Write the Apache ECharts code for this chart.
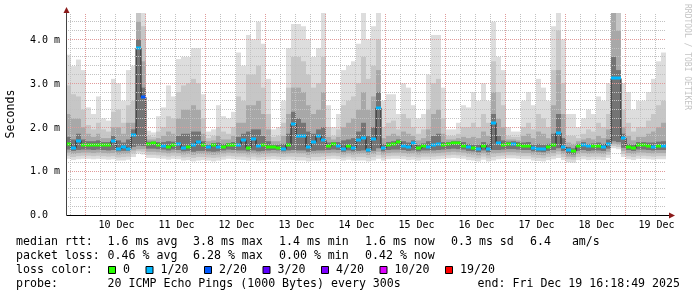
<!DOCTYPE html>
<html><head><meta charset="utf-8">
<script src="https://cdn.jsdelivr.net/npm/echarts@6/dist/echarts.min.js"></script>
<style>html,body{margin:0;padding:0;background:#fff}#c{width:697px;height:297px}</style>
</head><body><div id="c"></div>
<script>
// ---- time axis: hours relative to 10 Dec 00:00 ----
const X_MIN = -7.6, X_MAX = 232.4, SLOT_H = 2, Y_MAX = 4.6;
const dayLabels = ['10 Dec','11 Dec','12 Dec','13 Dec','14 Dec','15 Dec','16 Dec','17 Dec','18 Dec','19 Dec'];
const dayLabelHours = [12,36,60,84,108,132,156,180,204,228];
const yTickValues = [0,1,2,3,4];
const yTickLabels = ['0.0','1.0 m','2.0 m','3.0 m','4.0 m'];

// ---- median rtt (ms) per 2h slot, and lost pings out of 20 ----
const median = [
1.62,1.53,1.69,1.60,1.60,1.60,1.60,1.59,1.59,1.69,
1.51,1.54,1.51,1.83,3.80,2.68,1.62,1.63,1.60,1.58,
1.54,1.60,1.62,1.53,1.54,1.59,1.66,1.59,1.54,1.59,
1.55,1.54,1.59,1.59,1.60,1.70,1.53,1.72,1.58,1.60,
1.55,1.55,1.53,1.50,1.60,2.08,1.80,1.80,1.55,1.66,
1.80,1.70,1.57,1.61,1.58,1.50,1.58,1.53,1.70,1.76,
1.49,1.72,2.44,1.52,1.59,1.62,1.67,1.58,1.55,1.63,
1.52,1.56,1.54,1.60,1.62,1.60,1.61,1.63,1.63,1.58,
1.55,1.52,1.50,1.58,1.50,2.10,1.65,1.60,1.62,1.62,
1.60,1.57,1.58,1.52,1.50,1.50,1.55,1.60,1.87,1.55,
1.47,1.45,1.57,1.60,1.56,1.57,1.58,1.55,1.62,3.11,
3.11,1.75,1.55,1.52,1.60,1.60,1.58,1.55,1.57,1.58];
const lostPings = [
0,1,1,0,0,0,0,0,0,1,
1,1,1,1,1,2,0,0,0,1,
0,0,1,1,0,1,1,0,1,0,
1,0,0,0,1,1,0,1,1,0,
0,0,0,1,0,1,1,1,1,1,
1,1,0,0,1,1,0,1,1,1,
1,1,1,1,0,0,0,1,1,1,
0,0,1,1,1,0,0,0,0,0,
1,0,1,0,1,1,1,0,0,1,
0,0,0,1,1,1,0,0,1,1,
1,0,0,1,1,0,0,1,1,1,
1,1,0,0,0,0,0,1,0,1];

// ---- smoke envelopes (ms): outer (lightest) to inner (darkest) ----
const smokeTop1 = [
3.65,3.39,3.54,3.30,2.45,2.30,2.70,2.20,2.15,3.10,
3.00,2.60,3.30,3.40,4.60,4.60,1.92,1.88,2.25,2.45,
2.95,2.70,3.55,3.60,3.60,3.80,3.80,2.75,1.90,1.95,
2.50,2.25,2.20,2.35,3.70,3.40,4.10,4.00,4.40,3.90,
3.10,1.95,2.00,2.60,3.80,4.35,4.35,4.30,4.00,3.60,
3.80,4.60,2.50,2.00,2.30,3.30,3.40,3.50,3.90,4.60,
4.00,4.30,4.60,2.60,2.75,2.75,2.30,3.00,2.90,2.50,
2.20,2.30,3.20,4.10,4.10,2.90,1.95,1.95,2.10,2.50,
2.45,2.80,2.60,3.00,2.60,4.40,3.60,3.30,2.00,1.90,
1.90,2.60,2.80,2.50,3.10,2.90,2.60,4.30,4.60,4.00,
2.30,2.30,2.00,2.20,2.40,2.30,2.70,2.60,3.00,4.60,
4.60,3.00,2.80,2.40,2.60,2.60,2.80,3.10,3.50,3.70];
const smokeTop2 = [
2.95,2.75,2.70,2.40,2.05,1.95,2.10,1.95,1.90,2.35,
2.40,2.10,2.50,2.60,4.60,4.30,1.80,1.78,1.90,2.00,
2.25,2.20,2.80,2.95,3.00,3.10,3.00,2.20,1.75,1.80,
2.00,1.90,1.85,2.00,2.70,2.60,3.20,3.20,3.40,2.90,
2.30,1.78,1.80,2.10,2.90,3.60,3.60,3.50,3.20,2.90,
3.00,3.60,2.00,1.80,1.95,2.50,2.60,2.70,3.00,3.60,
3.10,3.40,4.00,2.00,2.10,2.15,1.95,2.30,2.20,2.00,
1.85,1.95,2.40,3.00,3.10,2.20,1.80,1.80,1.85,2.00,
2.00,2.10,2.00,2.30,2.10,3.50,2.80,2.50,1.80,1.78,
1.78,2.00,2.10,1.95,2.30,2.20,2.00,3.30,4.20,3.00,
1.80,1.80,1.75,1.85,1.95,1.90,2.10,2.00,2.30,4.60,
4.60,2.40,2.10,1.90,2.00,2.00,2.15,2.30,2.50,2.60];
const smokeTop3 = [
2.30,2.20,2.20,2.00,1.85,1.78,1.85,1.75,1.75,2.00,
2.00,1.85,2.10,2.10,4.40,3.50,1.72,1.72,1.75,1.80,
1.90,1.85,2.20,2.40,2.40,2.50,2.40,1.85,1.68,1.70,
1.80,1.72,1.72,1.80,2.10,2.10,2.50,2.50,2.60,2.30,
1.95,1.68,1.68,1.80,2.30,2.90,2.90,2.80,2.50,2.30,
2.40,2.80,1.78,1.72,1.78,2.00,2.10,2.20,2.40,2.80,
2.40,2.70,3.30,1.75,1.80,1.85,1.80,1.90,1.85,1.80,
1.70,1.75,1.95,2.30,2.40,1.85,1.72,1.72,1.75,1.78,
1.75,1.78,1.75,1.90,1.80,2.80,2.20,2.00,1.72,1.72,
1.70,1.80,1.85,1.75,1.90,1.85,1.75,2.50,3.30,2.30,
1.65,1.62,1.68,1.72,1.75,1.72,1.80,1.75,1.95,4.60,
4.20,2.00,1.80,1.70,1.78,1.78,1.85,1.90,2.00,2.10];
const smokeTop4 = [
1.78,1.72,1.85,1.72,1.68,1.68,1.70,1.66,1.66,1.80,
1.70,1.65,1.72,1.95,4.00,2.90,1.67,1.67,1.66,1.66,
1.68,1.67,1.80,1.85,1.85,1.90,1.90,1.68,1.60,1.64,
1.65,1.62,1.64,1.66,1.78,1.85,1.90,1.95,1.95,1.80,
1.68,1.60,1.60,1.62,1.85,2.35,2.20,2.10,1.90,1.85,
1.95,2.00,1.65,1.66,1.66,1.70,1.72,1.75,1.90,2.10,
1.80,2.00,2.80,1.62,1.66,1.68,1.72,1.68,1.65,1.70,
1.60,1.63,1.68,1.80,1.85,1.66,1.66,1.68,1.68,1.66,
1.62,1.60,1.60,1.66,1.62,2.30,1.80,1.70,1.67,1.68,
1.66,1.65,1.66,1.60,1.62,1.60,1.62,1.85,2.30,1.75,
1.55,1.52,1.62,1.66,1.62,1.63,1.65,1.62,1.72,3.60,
3.30,1.85,1.62,1.60,1.66,1.66,1.65,1.65,1.67,1.68];
const smokeBot1 = [
1.28,1.25,1.27,1.28,1.28,1.27,1.28,1.27,1.26,1.27,
1.24,1.24,1.26,1.32,1.40,1.38,1.30,1.30,1.29,1.28,
1.26,1.28,1.27,1.24,1.25,1.22,1.24,1.25,1.24,1.22,
1.24,1.26,1.28,1.27,1.26,1.25,1.24,1.26,1.24,1.25,
1.26,1.27,1.26,1.25,1.26,1.25,1.24,1.24,1.22,1.24,
1.24,1.25,1.27,1.28,1.27,1.24,1.26,1.24,1.24,1.24,
1.22,1.24,1.28,1.24,1.27,1.28,1.28,1.27,1.25,1.26,
1.24,1.26,1.26,1.26,1.27,1.28,1.29,1.30,1.29,1.28,
1.25,1.24,1.22,1.26,1.22,1.24,1.27,1.28,1.29,1.29,
1.28,1.27,1.27,1.24,1.23,1.22,1.25,1.27,1.30,1.25,
1.20,1.19,1.25,1.27,1.25,1.26,1.26,1.25,1.30,1.52,
1.50,1.32,1.27,1.25,1.28,1.28,1.27,1.26,1.27,1.27];
const smokeBot2 = [
1.35,1.32,1.34,1.35,1.35,1.34,1.35,1.34,1.33,1.34,
1.31,1.32,1.33,1.40,1.45,1.44,1.37,1.37,1.36,1.35,
1.33,1.35,1.34,1.31,1.32,1.30,1.32,1.32,1.31,1.30,
1.31,1.33,1.35,1.34,1.33,1.33,1.31,1.33,1.31,1.32,
1.33,1.34,1.33,1.32,1.33,1.33,1.32,1.32,1.30,1.32,
1.32,1.33,1.34,1.35,1.34,1.31,1.33,1.31,1.32,1.32,
1.30,1.32,1.36,1.31,1.34,1.35,1.35,1.34,1.32,1.33,
1.31,1.33,1.33,1.33,1.34,1.35,1.36,1.37,1.36,1.35,
1.32,1.31,1.29,1.33,1.29,1.32,1.34,1.35,1.36,1.36,
1.35,1.34,1.34,1.31,1.30,1.29,1.32,1.34,1.38,1.32,
1.27,1.26,1.32,1.34,1.32,1.33,1.33,1.32,1.37,1.57,
1.55,1.39,1.34,1.32,1.35,1.35,1.34,1.33,1.34,1.34];
const smokeBot3 = [
1.42,1.39,1.41,1.42,1.42,1.41,1.42,1.41,1.40,1.41,
1.38,1.39,1.40,1.47,1.50,1.50,1.44,1.44,1.43,1.42,
1.40,1.42,1.41,1.38,1.39,1.37,1.39,1.39,1.38,1.37,
1.38,1.40,1.42,1.41,1.40,1.40,1.38,1.40,1.38,1.39,
1.40,1.41,1.40,1.39,1.40,1.41,1.40,1.40,1.37,1.39,
1.40,1.40,1.41,1.42,1.41,1.38,1.40,1.38,1.39,1.40,
1.37,1.39,1.44,1.38,1.41,1.42,1.42,1.41,1.39,1.40,
1.38,1.40,1.40,1.40,1.41,1.42,1.43,1.44,1.43,1.42,
1.39,1.38,1.36,1.40,1.36,1.40,1.41,1.42,1.43,1.43,
1.42,1.41,1.41,1.38,1.37,1.36,1.39,1.41,1.45,1.39,
1.33,1.32,1.39,1.41,1.39,1.40,1.40,1.39,1.44,1.62,
1.60,1.46,1.41,1.39,1.42,1.42,1.41,1.40,1.41,1.41];
const smokeBot4 = [
1.49,1.46,1.48,1.49,1.49,1.48,1.49,1.48,1.47,1.48,
1.45,1.46,1.46,1.55,1.58,1.57,1.51,1.51,1.50,1.49,
1.47,1.49,1.48,1.45,1.46,1.44,1.46,1.46,1.45,1.44,
1.45,1.47,1.49,1.48,1.47,1.47,1.45,1.47,1.45,1.46,
1.47,1.48,1.47,1.45,1.47,1.48,1.47,1.47,1.44,1.46,
1.47,1.47,1.48,1.49,1.48,1.44,1.47,1.45,1.46,1.47,
1.43,1.46,1.52,1.45,1.48,1.49,1.49,1.48,1.46,1.47,
1.45,1.47,1.47,1.47,1.48,1.49,1.50,1.51,1.50,1.49,
1.46,1.45,1.43,1.47,1.43,1.48,1.48,1.49,1.50,1.50,
1.49,1.48,1.48,1.45,1.44,1.43,1.46,1.48,1.52,1.46,
1.39,1.38,1.46,1.48,1.46,1.47,1.47,1.46,1.51,1.68,
1.66,1.53,1.48,1.46,1.49,1.49,1.48,1.47,1.48,1.48];

// ---- legend ----
const lossLegend = [['0','#26ff00'],['1/20','#00b8ff'],['2/20','#0059ff'],['3/20','#5e00ff'],['4/20','#7e00ff'],['10/20','#dd00ff'],['19/20','#ff0000']];
const lossColorOf = {0:'#26ff00',1:'#00b8ff',2:'#0059ff'};
const rttStats = ['1.6 ms avg','3.8 ms max','1.4 ms min','1.6 ms now','0.3 ms sd','6.4   am/s'];
const lossStats = ['0.46 % avg','6.28 % max','0.00 % min','0.42 % now'];
const probeText = '20 ICMP Echo Pings (1000 Bytes) every 300s';
const endText = 'end: Fri Dec 19 16:18:49 2025';

const SMOKE_COLORS = ['#dddddd','#c6c6c6','#a8a8a8','#747474'];
const MONO = '"DejaVu Sans Mono", monospace';

const slotStart = k => X_MIN + SLOT_H * k;
const smokeData = median.map((m, k) => [slotStart(k),
  smokeBot1[k], smokeTop1[k], smokeBot2[k], smokeTop2[k],
  smokeBot3[k], smokeTop3[k], smokeBot4[k], smokeTop4[k]]);
const medBoxData = median.map((m, k) => [slotStart(k), m, lostPings[k]]);
const medLineData = median.map((m, k) => [slotStart(k) + SLOT_H / 2, m]);

// grid lines: [orientation 0=vertical 1=horizontal, value, major?]
const gridData = [];
for (let h = -6; h < X_MAX; h += 6) gridData.push([0, h, (h % 24 === 0) ? 1 : 0]);
for (let i = 1; i <= 22; i++) { const v = i / 5; gridData.push([1, v, (i % 5 === 0) ? 1 : 0]); }

const chart = echarts.init(document.getElementById('c'), null, {renderer: 'canvas', width: 697, height: 297});

const crisp = v => Math.round(v - 0.5) + 0.5;

const option = {
  animation: false,
  backgroundColor: '#ffffff',
  grid: {left: 66, right: 31, top: 13, bottom: 82, containLabel: false},
  xAxis: {type: 'value', min: X_MIN, max: X_MAX, show: false},
  yAxis: {type: 'value', min: 0, max: Y_MAX, show: false},
  series: [
    { type: 'custom', name: 'smoke', z: 1, silent: true, data: smokeData,
      renderItem: (params, api) => {
        const x0 = api.value(0), x1 = x0 + SLOT_H;
        const children = [];
        for (let b = 0; b < 4; b++) {
          const top = api.coord([x0, api.value(2 + 2 * b)]);
          const bot = api.coord([x1, api.value(1 + 2 * b)]);
          children.push({type: 'rect', shape: {x: top[0], y: top[1], width: bot[0] - top[0], height: bot[1] - top[1]},
            style: {fill: SMOKE_COLORS[b]}});
        }
        return {type: 'group', children};
      }
    },
    { type: 'line', name: 'medianLine', z: 2, silent: true, data: medLineData, step: 'middle',
      symbol: 'none', lineStyle: {color: '#202020', width: 1} },
    { type: 'custom', name: 'medianBoxes', z: 3, silent: true, data: medBoxData,
      renderItem: (params, api) => {
        const x0 = api.value(0), x1 = x0 + SLOT_H;
        const a = api.coord([x0, api.value(1)]);
        const b = api.coord([x1, api.value(1)]);
        return {type: 'rect', shape: {x: a[0], y: Math.round(a[1]) - 1.5, width: b[0] - a[0], height: 3},
          style: {fill: lossColorOf[api.value(2)]}};
      }
    },
    { type: 'custom', name: 'grid', z: 4, silent: true, data: gridData, clip: false,
      renderItem: (params, api) => {
        const vert = api.value(0) === 0, v = api.value(1), major = api.value(2) === 1;
        let p0, p1;
        if (vert) {
          const a = api.coord([v, 0]), b = api.coord([v, Y_MAX]);
          const x = crisp(a[0]);
          p0 = [x, a[1]]; p1 = [x, b[1]];
        } else {
          const a = api.coord([X_MIN, v]), b = api.coord([X_MAX, v]);
          const y = crisp(a[1]);
          p0 = [a[0], y]; p1 = [b[0], y];
        }
        return {type: 'line', shape: {x1: p0[0], y1: p0[1], x2: p1[0], y2: p1[1]},
          style: {stroke: major ? '#e09a9a' : '#c2c2c2', lineWidth: 1, lineDash: [1, 1]}};
      }
    },
    { type: 'custom', name: 'axes', z: 5, silent: true, data: [[0]], clip: false,
      renderItem: (params, api) => {
        const o = api.coord([X_MIN, 0]);
        const r = api.coord([X_MAX, 0]);
        const t = api.coord([X_MIN, Y_MAX]);
        const ox = crisp(o[0]), oy = crisp(o[1]);
        return {type: 'group', children: [
          {type: 'line', shape: {x1: ox, y1: oy, x2: r[0] + 4, y2: oy}, style: {stroke: '#000', lineWidth: 1}},
          {type: 'line', shape: {x1: ox, y1: oy, x2: ox, y2: t[1]}, style: {stroke: '#444', lineWidth: 1}},
          {type: 'polygon', shape: {points: [[r[0] + 3, oy - 3], [r[0] + 9, oy], [r[0] + 3, oy + 3]]}, style: {fill: '#8b1a1a'}},
          {type: 'polygon', shape: {points: [[ox - 3, t[1]], [ox, t[1] - 6], [ox + 3, t[1]]]}, style: {fill: '#8b1a1a'}}
        ]};
      }
    },
    { type: 'custom', name: 'xLabels', z: 5, silent: true, clip: false,
      data: dayLabelHours.map((h, i) => [h, i]),
      renderItem: (params, api) => {
        const p = api.coord([api.value(0), 0]);
        return {type: 'text', x: p[0] + 1.5, y: p[1] + 10,
          style: {text: dayLabels[api.value(1)], fill: '#000', font: '10px ' + MONO, align: 'center', verticalAlign: 'middle'}};
      }
    },
    { type: 'custom', name: 'yLabels', z: 5, silent: true, clip: false,
      data: yTickValues.map((v, i) => [X_MIN, v, i]),
      renderItem: (params, api) => {
        const p = api.coord([api.value(0), api.value(1)]);
        return {type: 'text', x: p[0] - 36, y: p[1] + 0.8,
          style: {text: yTickLabels[api.value(2)], fill: '#000', font: '10px ' + MONO, align: 'left', verticalAlign: 'middle'}};
      }
    }
  ],
  graphic: []
};

// legend / annotation text
const LF = '11.6px ' + MONO;
const g = [];
const txt = (s, x, y, extra) => g.push(Object.assign({type: 'text', x, y, silent: true,
  style: {text: s, fill: '#000', font: LF, align: 'left', verticalAlign: 'middle'}}, extra || {}));
const segX = [107.6, 193, 279, 365, 451, 530];
const rowY = [241.5, 255.5, 269.5, 283.5];
txt('median rtt:', 16, rowY[0]);
rttStats.forEach((s, i) => txt(s, segX[i], rowY[0]));
txt('packet loss:', 16, rowY[1]);
lossStats.forEach((s, i) => txt(s, segX[i], rowY[1]));
txt('loss color:', 16, rowY[2]);
let bx = 108;
lossLegend.forEach(([label, col]) => {
  g.push({type: 'rect', silent: true, shape: {x: bx + 0.5, y: 266.5, width: 7, height: 7},
    style: {fill: col, stroke: '#000', lineWidth: 1}});
  txt(label, bx + 15, rowY[2]);
  bx = bx + 15 + label.length * 7 + 15.5;
});
txt('probe:', 16, rowY[3]);
txt(probeText, segX[0], rowY[3]);
g.push({type: 'text', x: 680, y: rowY[3], silent: true,
  style: {text: endText, fill: '#000', font: LF, align: 'right', verticalAlign: 'middle'}});
g.push({type: 'text', x: 10.5, y: 114, rotation: Math.PI / 2, silent: true,
  style: {text: 'Seconds', fill: '#000', font: LF, align: 'center', verticalAlign: 'middle'}});
g.push({type: 'text', x: 687, y: 57, rotation: -Math.PI / 2, silent: true,
  style: {text: 'RRDTOOL / TOBI OETIKER', fill: '#c4c4c4', font: '8px ' + MONO, align: 'center', verticalAlign: 'middle'}});
option.graphic = g;

chart.setOption(option);
</script>
</body></html>
